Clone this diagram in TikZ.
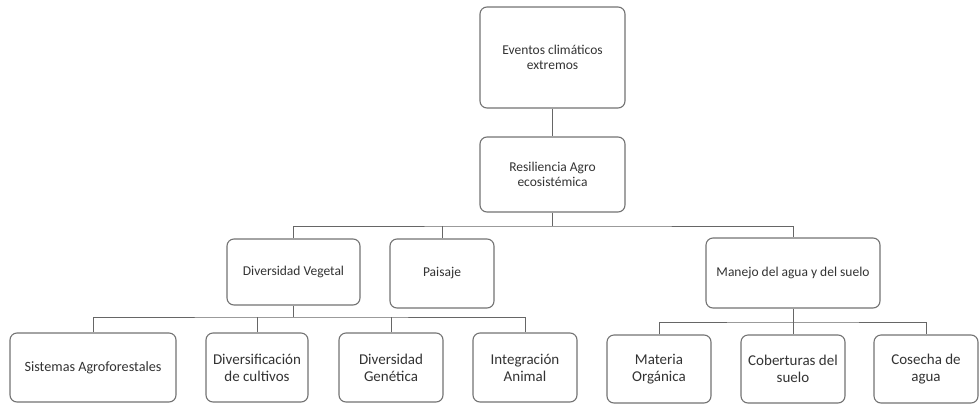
\documentclass[tikz,border=0pt]{standalone}
\usepackage{fontspec}
\setmainfont{Carlito}
\begin{document}
\begin{tikzpicture}[x=1pt,y=-1pt,
  box/.style={draw=black!55,line width=1.1pt,rounded corners=7pt,fill=white,align=center,
    inner sep=2pt,font=\fontsize{13.5}{15.5}\selectfont,text=black!80},
  big/.style={font=\fontsize{15}{17}\selectfont},
  link/.style={draw=black!60,line width=1pt}]
\useasboundingbox (0,0) rectangle (980,405);
\node[box,minimum width=145pt,minimum height=101pt] (ev) at (552.5,57.5) {Eventos climáticos\\extremos};
\node[box,minimum width=145pt,minimum height=75pt] (res) at (552.5,174.5) {Resiliencia Agro\\ecosistémica};
\node[box,minimum width=133pt,minimum height=66pt] (dv) at (293.5,272) {Diversidad Vegetal};
\node[box,minimum width=104pt,minimum height=69pt] (pa) at (442,273.5) {Paisaje};
\node[box,minimum width=174pt,minimum height=70pt] (mj) at (793,273) {Manejo del agua y del suelo};
\node[box,minimum width=166pt,minimum height=69pt,font=\fontsize{14.2}{16}\selectfont] (sa) at (93,367.5) {Sistemas Agroforestales};
\node[box,big,minimum width=102pt,minimum height=69pt] (dc) at (257,367.5) {Diversificación\\de cultivos};
\node[box,big,minimum width=104pt,minimum height=69pt] (dg) at (391,367.5) {Diversidad\\Genética};
\node[box,big,minimum width=104pt,minimum height=69pt] (ia) at (525,367.5) {Integración\\Animal};
\node[box,big,minimum width=104pt,minimum height=68pt] (mo) at (659,369) {Materia\\Orgánica};
\node[box,big,minimum width=104pt,minimum height=68pt] (co) at (793,369) {Coberturas del\\suelo};
\node[box,big,minimum width=104pt,minimum height=68pt] (cs) at (926,369) {Cosecha de\\agua};
\coordinate (b0) at (552.5,226);
\coordinate (b1) at (293.5,317);
\coordinate (b2) at (793,322);
\draw[link] (ev.south) -- (res.north);
\draw[link] (res.south) -- (b0);
\draw[link] (dv.north) |- (b0) -| (mj.north);
\draw[link] (pa.north) -- (pa.north |- b0);
\draw[link] (dv.south) -- (b1);
\draw[link] (sa.north) |- (b1) -| (ia.north);
\draw[link] (dc.north) -- (dc.north |- b1);
\draw[link] (dg.north) -- (dg.north |- b1);
\draw[link] (mj.south) -- (b2);
\draw[link] (mo.north) |- (b2) -| (cs.north);
\draw[link] (co.north) -- (co.north |- b2);
\end{tikzpicture}
\end{document}
